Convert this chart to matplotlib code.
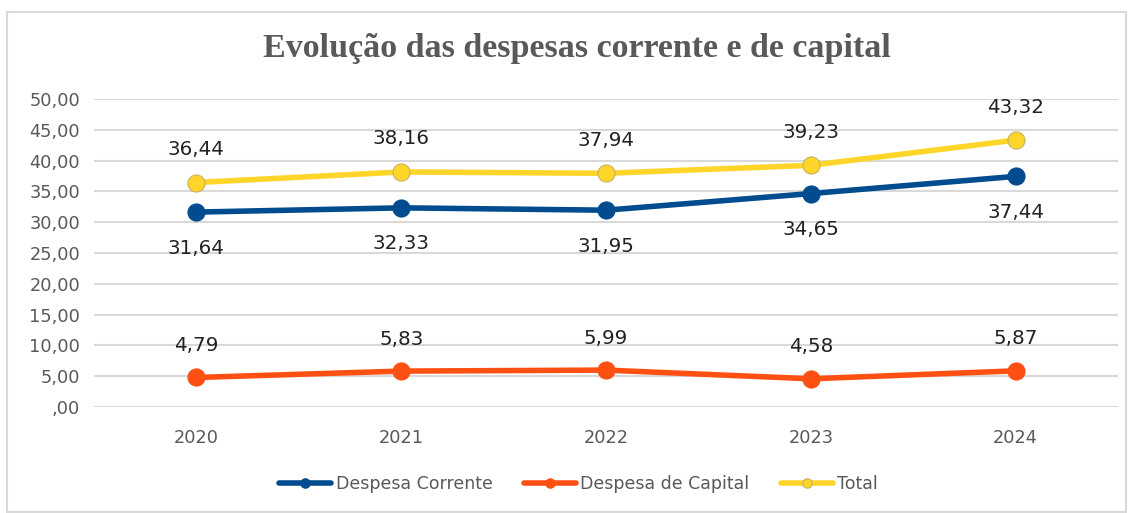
import matplotlib.pyplot as plt
import numpy as np
from matplotlib.patches import Rectangle

years = ["2020", "2021", "2022", "2023", "2024"]
corrente = [31.64, 32.33, 31.95, 34.65, 37.44]
capital = [4.79, 5.83, 5.99, 4.58, 5.87]
total = [36.44, 38.16, 37.94, 39.23, 43.32]


def fmt(v):
    s = "{:.2f}".format(v).replace(".", ",")
    return s[1:] if s.startswith("0") else s


fig = plt.figure(figsize=(11.33, 5.13), dpi=100)
ax = fig.add_axes([94 / 1133, 1 - 407 / 513, 1024 / 1133, 308 / 513])

# outer chart border
fig.patches.append(Rectangle((7 / 1133, 0.002), 1119 / 1133, 1 - 12 / 513 - 0.002,
                             transform=fig.transFigure, fill=False,
                             edgecolor="#d9d9d9", linewidth=1.5))

x = np.arange(len(years))
series = [
    ("Despesa Corrente", corrente, "#004C8F", "#004C8F", -36),
    ("Despesa de Capital", capital, "#FF5014", "#FF5014", 32),
    ("Total", total, "#FFD52A", "#C8B060", 33),
]
for name, vals, col, edge, off in series:
    ax.plot(x, vals, color=col, lw=4, marker="o", ms=12.3,
            markerfacecolor=col, markeredgecolor=edge, markeredgewidth=0.8,
            label=name, solid_capstyle="round", zorder=3)
    for xi, v in zip(x, vals):
        ax.annotate(fmt(v), (xi, v), xytext=(0, off), textcoords="offset pixels",
                    ha="center", va="center", fontsize=14.3, color="#222222",
                    family="DejaVu Sans")

ax.set_xlim(-0.5, 4.5)
ax.set_ylim(0, 50)
ticks = np.arange(0, 51, 5)
ax.set_yticks(ticks)
ax.set_yticklabels([fmt(t) for t in ticks], fontsize=12.8, color="#595959")
ax.set_xticks(x)
ax.set_xticklabels(years, fontsize=12.8, color="#595959")
ax.tick_params(axis="y", length=0, pad=10)
ax.tick_params(axis="x", length=0, pad=16)
ax.grid(axis="y", color="#d9d9d9", lw=1.5)
ax.set_axisbelow(True)
for sp in ax.spines.values():
    sp.set_visible(False)

fig.text(577 / 1133, 1 - 49 / 513, "Evolução das despesas corrente e de capital",
         ha="center", va="center", fontsize=24.5, fontweight="bold",
         color="#595959", family="Liberation Serif")

leg = fig.legend(loc="center", bbox_to_anchor=(578.5 / 1133, 1 - 484 / 513), ncol=3,
                 frameon=False, prop={"family": "DejaVu Sans", "size": 12.5},
                 handlelength=3.0, handletextpad=0.25, columnspacing=1.8,
                 markerscale=0.55)
for t in leg.get_texts():
    t.set_color("#595959")

fig.savefig("out.png", dpi=100)
